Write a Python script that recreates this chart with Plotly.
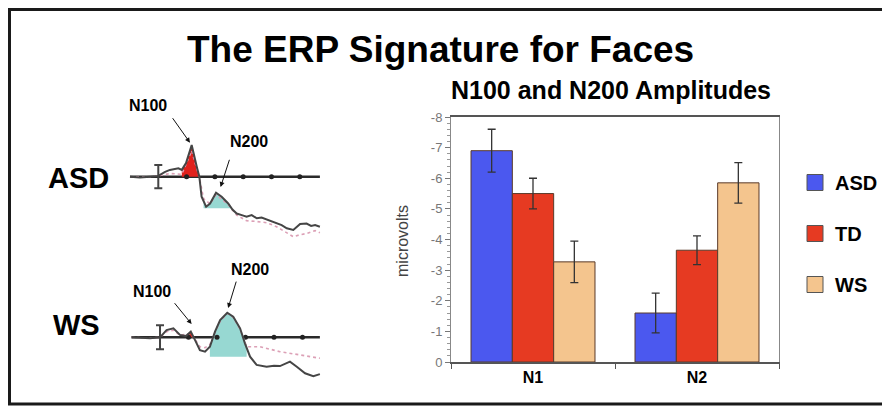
import numpy as np
import plotly.graph_objects as go

# ---------------- data ----------------
components = ["N1", "N2"]
groups = ["ASD", "TD", "WS"]
asd_amp = [-6.9, -1.6]
td_amp = [-5.5, -3.65]
ws_amp = [-3.27, -5.85]
asd_err = [0.7, 0.65]
td_err = [0.5, 0.47]
ws_err = [0.68, 0.66]
ytick_vals = [0, -1, -2, -3, -4, -5, -6, -7, -8]
ytick_text = ["0", "-1", "-2", "-3", "-4", "-5", "-6", "-7", "-8"]

# ERP waveforms (time in ms, amplitude in arbitrary uV, negative up)
asd_t = [-100, -65, -29, 0, 24, 41, 71, 83, 98, 118, 136, 145, 153, 169, 183, 204, 224, 247,
         262, 277, 295, 312, 330, 348, 365, 383, 400, 418, 436, 454, 477, 490, 501, 524, 540, 554, 571]
asd_v = [0, 0.2, 0, -0.2, -1.2, -1.7, -2.1, -1.7, -3.4, -7.9, -2.5, 0, 5, 7.5, 6.7, 4, 5, 6.7,
         8.2, 9.2, 9.6, 10, 9.6, 10.4, 10.2, 10.7, 11.2, 11.7, 12.1, 12.9, 13.3, 12.5, 11.8, 11.7, 12.3, 12.1, 12.5]
asd_td_t = [-100, -29, 0, 41, 83, 118, 136, 145, 160, 183, 204, 247, 277, 312, 348, 383, 418, 454, 477, 501, 524, 554, 571]
asd_td_v = [0, 0, -0.2, -0.8, -0.6, -6.5, -2, 0, 5.5, 6.8, 4.5, 7, 9.6, 11, 11.2, 11.5, 12.5, 14, 15, 14.5, 14.2, 13.5, 14]

ws_t = [-100, -35, 0, 23, 47, 70, 91, 108, 123, 140, 158, 175, 193, 211, 236, 257, 281, 298, 316,
        339, 374, 400, 421, 456, 480, 509, 538, 561]
ws_v = [0, 0.25, 0, -1.8, -2.25, -0.6, -0.3, -1.4, 0.7, 3.2, 3.6, 2.35, -1.4, -4.3, -6.15, -5.15, -2.25, 1.5, 4.85,
        6.9, 7.35, 7.1, 7.2, 6.1, 7.35, 9, 9.7, 9.2]
ws_td_t = [-100, -35, 0, 23, 47, 70, 108, 123, 140, 158, 175, 193, 211, 236, 257, 281, 304, 351, 421, 491, 561]
ws_td_v = [0, 0.2, 0, -1.4, -1.8, -0.5, -1.0, 0.5, 2.35, 2.6, 1.8, -1.2, -4, -6, -5, -2, 2.35, 2.35, 3.6, 4.4, 5.25]

tick_times = [100, 200, 300, 400, 500]

colors = {"ASD": "#4b58ef", "TD": "#e63a22", "WS": "#f4c58e"}
W, H = 890, 407
OFF = 8  # page body margin offset
FONT = "Liberation Sans, Arial"


def px_x(p):
    return (p - OFF) / W


def px_y(p):
    return 1 - (p - OFF) / H


def fill_poly(t, v, t0, t1, level):
    t = np.asarray(t, float)
    v = np.asarray(v, float)
    inside = t[(t > t0) & (t < t1)]
    ts = np.concatenate([[t0], inside, [t1]])
    vs = np.minimum(np.interp(ts, t, v), level)
    xs = list(ts) + list(ts[::-1])
    ys = list(vs) + [level] * len(ts)
    return xs, ys


fig = go.Figure()

# ---------------- bar chart ----------------
for g, vals, err in [("ASD", asd_amp, asd_err), ("TD", td_amp, td_err), ("WS", ws_amp, ws_err)]:
    fig.add_trace(go.Bar(
        x=components, y=vals, name=g, showlegend=False,
        marker=dict(color=colors[g], line=dict(color="#5a3a2a", width=1)),
        error_y=dict(type="data", array=err, visible=True, color="#333333", thickness=1.3, width=4),
        xaxis="x", yaxis="y"))
    fig.add_trace(go.Scatter(
        x=[None], y=[None], mode="markers", name=g, legendgroup=g,
        marker=dict(symbol="square", size=16, color=colors[g], line=dict(color="#555", width=1)),
        xaxis="x", yaxis="y"))


# ---------------- ERP panels ----------------
def add_erp(t, v, td_t, td_v, xa, ya, red_win, teal_win, teal_level, stim_err):
    fig.add_trace(go.Scatter(x=[t[0], t[-1]], y=[0, 0], mode="lines",
                             line=dict(color="#2a2a2a", width=2.5), showlegend=False,
                             xaxis=xa, yaxis=ya, hoverinfo="skip"))
    rx, ry = fill_poly(t, v, red_win[0], red_win[1], 0)
    fig.add_trace(go.Scatter(x=rx, y=ry, fill="toself", mode="none", fillcolor="#e0211c",
                             showlegend=False, xaxis=xa, yaxis=ya, hoverinfo="skip"))
    cx, cy = fill_poly(t, v, teal_win[0], teal_win[1], teal_level)
    fig.add_trace(go.Scatter(x=cx, y=cy, fill="toself", mode="none", fillcolor="#97d8d2",
                             showlegend=False, xaxis=xa, yaxis=ya, hoverinfo="skip"))
    fig.add_trace(go.Scatter(x=tick_times, y=[0] * len(tick_times), mode="markers",
                             marker=dict(color="#222", size=5), showlegend=False,
                             xaxis=xa, yaxis=ya, hoverinfo="skip"))
    fig.add_trace(go.Scatter(x=td_t, y=td_v, mode="lines",
                             line=dict(color="#dca0b6", width=1.6, dash="dot"),
                             showlegend=False, xaxis=xa, yaxis=ya, hoverinfo="skip"))
    fig.add_trace(go.Scatter(x=t, y=v, mode="lines", line=dict(color="#454545", width=2),
                             showlegend=False, xaxis=xa, yaxis=ya, hoverinfo="skip"))
    fig.add_trace(go.Scatter(x=[0], y=[0], mode="markers", marker=dict(size=1, color="#444"),
                             error_y=dict(type="data", array=[stim_err], visible=True,
                                          color="#444", thickness=2, width=4),
                             showlegend=False, xaxis=xa, yaxis=ya, hoverinfo="skip"))


add_erp(asd_t, asd_v, asd_td_t, asd_td_v, "x2", "y2", (83, 145), (160, 262), 7.9, 2.9)
add_erp(ws_t, ws_v, ws_td_t, ws_td_v, "x3", "y3", (98, 120), (175, 304), 4.85, 3.0)

hidden = dict(visible=False, showgrid=False, zeroline=False, fixedrange=True)


def label(text, x, y, size, color="#000", angle=0):
    return dict(text=text, x=px_x(x), y=px_y(y), xref="paper", yref="paper",
                xanchor="center", yanchor="middle", textangle=angle,
                showarrow=False, font=dict(size=size, color=color, family=FONT))


def arrow(x, y, ax, ay, xa, ya):
    return dict(text="", x=x, y=y, ax=ax, ay=ay, xref=xa, yref=ya, axref=xa, ayref=ya,
                showarrow=True, arrowhead=2, arrowsize=1, arrowwidth=1, arrowcolor="#111")


annotations = [
    label("<b>The ERP Signature for Faces</b>", 440, 49, 37),
    label("<b>N100 and N200 Amplitudes</b>", 611, 90, 25),
    label("microvolts", 402, 241, 16, "#444", -90),
    label("<b>ASD</b>", 78, 178, 29),
    label("<b>WS</b>", 76, 325, 29),
    label("<b>N100</b>", 148, 105, 16),
    label("<b>N200</b>", 249, 142, 16),
    label("<b>N100</b>", 152, 291, 16),
    label("<b>N200</b>", 250, 269, 16),
    arrow(112, -8.5, 47, -15, "x2", "y2"),
    arrow(220, 2.6, 253, -4.6, "x2", "y2"),
    arrow(111, -3.3, 47, -8.9, "x3", "y3"),
    arrow(239, -7.3, 269, -14.3, "x3", "y3"),
]

fig.update_layout(
    width=W, height=H, autosize=False,
    margin=dict(l=0, r=0, t=0, b=0, autoexpand=False),
    paper_bgcolor="white", plot_bgcolor="white",
    font=dict(family=FONT, color="#000"),
    barmode="group", bargap=0.244, bargroupgap=0,
    showlegend=True,
    legend=dict(x=px_x(795), y=px_y(163), xanchor="left", yanchor="top",
                font=dict(size=20, color="#000", weight="bold"),
                tracegroupgap=22, itemwidth=30, bgcolor="rgba(0,0,0,0)"),
    xaxis=dict(domain=[px_x(451), px_x(779)], anchor="y", type="category",
               showline=True, linecolor="#555", linewidth=1.5, mirror=True,
               ticks="outside", tickson="boundaries", ticklen=5, tickcolor="#555",
               tickfont=dict(size=16, color="#000", weight="bold"), showgrid=False, fixedrange=True),
    yaxis=dict(domain=[px_y(362), px_y(117)], anchor="x", range=[0, -8],
               tickvals=ytick_vals, ticktext=ytick_text,
               showline=True, linecolor="#888", linewidth=1, mirror=True,
               ticks="outside", ticklen=5, tickcolor="#777",
               minor=dict(dtick=0.2, ticks="outside", ticklen=3, tickcolor="#999"),
               tickfont=dict(size=13, color="#777"), showgrid=False, zeroline=False, fixedrange=True),
    xaxis2=dict(domain=[px_x(120), px_x(330)], anchor="y2", range=[-135.3, 606.7], **hidden),
    yaxis2=dict(domain=[px_y(245), px_y(130)], anchor="x2", range=[17.075, -11.675], **hidden),
    xaxis3=dict(domain=[px_x(120), px_x(330)], anchor="y3", range=[-140.4, 596.5], **hidden),
    yaxis3=dict(domain=[px_y(390), px_y(290)], anchor="x3", range=[13.175, -11.825], **hidden),
    annotations=annotations,
    shapes=[dict(type="rect", xref="paper", yref="paper",
                 x0=px_x(9.5), x1=1.02, y0=px_y(404), y1=px_y(9.5),
                 line=dict(color="#1a1a1a", width=3))],
)

fig.write_html("out.html")
